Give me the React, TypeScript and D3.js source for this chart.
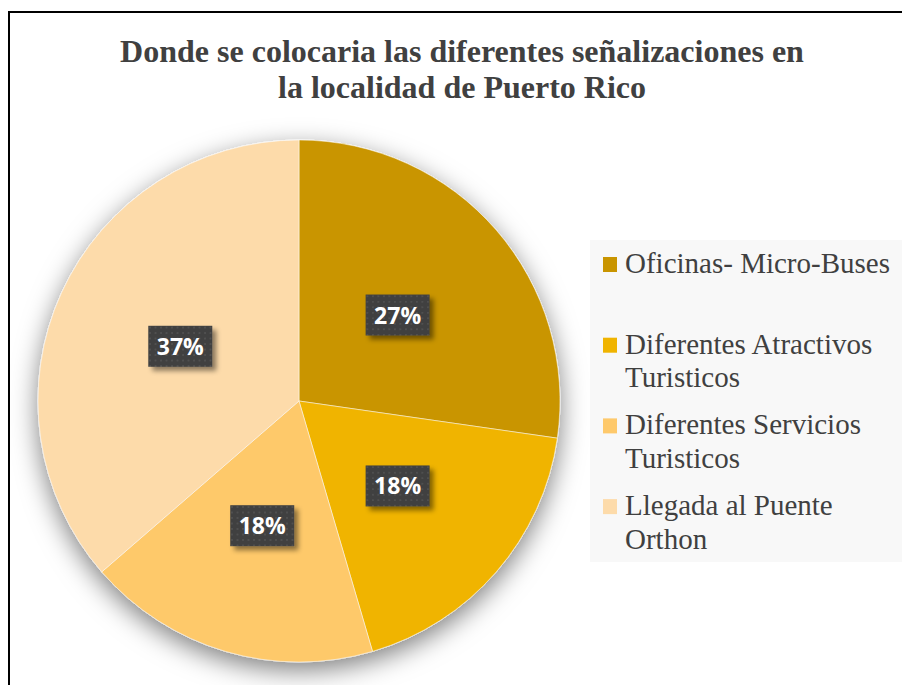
import React from "react";
import * as d3 from "d3";

const titleLines = ["Donde se colocaria las diferentes señalizaciones en", "la localidad de Puerto Rico"];
const categories = ["Oficinas- Micro-Buses", "Diferentes Atractivos Turisticos", "Diferentes Servicios Turisticos", "Llegada al Puente Orthon"];
const values = [3, 2, 2, 4];
const pctLabels = ["27%", "18%", "18%", "37%"];
const colors = ["#C99500", "#F0B400", "#FEC96B", "#FDDBAA"];

const W = 902, H = 685;
const cx = 299, cy = 401, R = 261;

function wrap(s: string, max: number): string[] {
  const words = s.split(" ");
  const lines: string[] = [];
  let cur = "";
  for (const w of words) {
    const t = cur ? cur + " " + w : w;
    if (t.length > max && cur) { lines.push(cur); cur = w; } else cur = t;
  }
  if (cur) lines.push(cur);
  return lines;
}

export default function App() {
  const pie = d3.pie<number>().sort(null).value((d) => d);
  const arcs = pie(values);
  const arc = d3.arc<d3.PieArcDatum<number>>().innerRadius(0).outerRadius(R);

  return (
    <svg width={W} height={H} style={{ position: "absolute", left: 0, top: 0 }} xmlns="http://www.w3.org/2000/svg">
      <defs>
        <filter id="pieShadow" x="-30%" y="-30%" width="160%" height="160%">
          <feDropShadow dx="0" dy="8" stdDeviation="13" floodColor="#000" floodOpacity="0.5" />
        </filter>
        <filter id="boxShadow" x="-30%" y="-30%" width="160%" height="160%">
          <feDropShadow dx="4" dy="4" stdDeviation="2.5" floodColor="#000" floodOpacity="0.45" />
        </filter>
        <pattern id="dots" width="5.5" height="5.5" patternUnits="userSpaceOnUse">
          <rect width="5.5" height="5.5" fill="#404040" />
          <rect x="2" y="2" width="1.5" height="1.5" fill="#575757" />
        </pattern>
      </defs>
      <rect x={0} y={0} width={W} height={H} fill="#fff" />
      <path d={`M9,${H + 5} V12 H${W + 5}`} fill="none" stroke="#000" strokeWidth={2} />
      <g fontFamily="'Liberation Serif', 'Times New Roman', serif" fontWeight="bold" fontSize={32} fill="#404040" textAnchor="middle">
        {titleLines.map((t, i) => (
          <text key={i} x={462} y={62 + i * 36}>{t}</text>
        ))}
      </g>
      <g transform={`translate(${cx},${cy})`}>
        <g filter="url(#pieShadow)">
          {arcs.map((a, i) => (
            <path key={i} d={arc(a) || ""} fill={colors[i]} stroke="#fff" strokeOpacity={0.5} strokeWidth={1} />
          ))}
        </g>
        {arcs.map((a, i) => {
          const [x, y] = arc.centroid(a);
          return (
            <g key={i} transform={`translate(${x},${y})`}>
              <rect x={-32} y={-21} width={64} height={41} fill="url(#dots)" filter="url(#boxShadow)" />
              <text x={0} y={8} textAnchor="middle" fill="#fff" fontFamily="'Open Sans', sans-serif" fontWeight="bold" fontSize={23}>
                {pctLabels[i]}
              </text>
            </g>
          );
        })}
      </g>
      <rect x={590} y={240} width={320} height={322} fill="#F8F8F8" />
      <g fontFamily="'Liberation Serif', 'Times New Roman', serif" fontSize={29} fill="#404040">
        {categories.map((c, i) => {
          const y0 = 273 + i * 80.7;
          return (
            <g key={i}>
              <rect x={603} y={y0 - 16} width={14} height={15} fill={colors[i]} />
              {wrap(c, 21).map((l, j) => (
                <text key={j} x={625} y={y0 + j * 33.5}>{l}</text>
              ))}
            </g>
          );
        })}
      </g>
    </svg>
  );
}
